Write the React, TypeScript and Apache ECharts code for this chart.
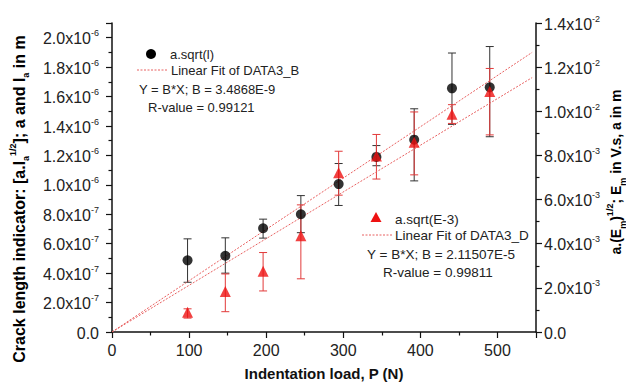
import React, { useEffect, useRef } from "react";
import * as echarts from "echarts";

const loads = [98, 147, 196, 245, 294, 343, 392, 441, 490];
const circleY = [4.87e-7, 5.18e-7, 7.05e-7, 8.0e-7, 1.005e-6, 1.19e-6, 1.307e-6, 1.656e-6, 1.663e-6];
const circleLo = [3.38e-7, 4.0e-7, 6.38e-7, 6.75e-7, 8.6e-7, 1.13e-6, 1.027e-6, 1.411e-6, 1.327e-6];
const circleHi = [6.33e-7, 6.4e-7, 7.67e-7, 9.27e-7, 1.145e-6, 1.267e-6, 1.517e-6, 1.896e-6, 1.94e-6];
const triY = [0.89e-3, 1.83e-3, 2.75e-3, 4.36e-3, 7.22e-3, 7.97e-3, 8.6e-3, 9.87e-3, 10.9e-3];
const triLo = [0.63e-3, 0.92e-3, 1.86e-3, 2.41e-3, 6.2e-3, 6.93e-3, 7.12e-3, 9.45e-3, 8.93e-3];
const triHi = [1.05e-3, 2.63e-3, 3.6e-3, 5.76e-3, 8.19e-3, 8.95e-3, 9.97e-3, 10.3e-3, 11.94e-3];
const fitB = [[0, 0], [545, 1.9003e-6]];
const fitD = [[0, 0], [545, 1.15271e-2]];
const legendTexts = {
  b1: "a.sqrt(l)",
  b2: "Linear Fit of DATA3_B",
  b3: "Y = B*X; B = 3.4868E-9",
  b4: "R-value = 0.99121",
  d1: "a.sqrt(E-3)",
  d2: "Linear Fit of DATA3_D",
  d3: "Y = B*X; B = 2.11507E-5",
  d4: "R-value = 0.99811",
};

const FONT = "'Liberation Sans', Arial, Helvetica, sans-serif";

function sciLabel(v: number): string {
  if (Math.abs(v) < 1e-15) return "{a|0.0}";
  let e = Math.floor(Math.log10(Math.abs(v)) + 1e-9);
  let m = v / Math.pow(10, e);
  m = Math.round(m * 10) / 10;
  if (m >= 10) {
    m = m / 10;
    e += 1;
  }
  return `{a|${m.toFixed(1)}x10}{s|${e}}`;
}

const labelRich = {
  a: { fontSize: 16, fontFamily: FONT, color: "#222", lineHeight: 18, verticalAlign: "bottom" as const },
  s: { fontSize: 9, fontFamily: FONT, color: "#222", lineHeight: 18, verticalAlign: "top" as const },
};

function errSeries(name: string, yIdx: number, lo: number[], hi: number[], color: string) {
  return {
    type: "custom",
    name,
    yAxisIndex: yIdx,
    z: 2,
    data: loads.map((x, i) => [x, lo[i], hi[i]]),
    renderItem: (params: any, api: any) => {
      const p1 = api.coord([api.value(0), api.value(1)]);
      const p2 = api.coord([api.value(0), api.value(2)]);
      const w = 4;
      const st = { stroke: color, lineWidth: 1 };
      return {
        type: "group",
        children: [
          { type: "line", shape: { x1: p1[0], y1: p1[1], x2: p2[0], y2: p2[1] }, style: st },
          { type: "line", shape: { x1: p1[0] - w, y1: p1[1], x2: p1[0] + w, y2: p1[1] }, style: st },
          { type: "line", shape: { x1: p2[0] - w, y1: p2[1], x2: p2[0] + w, y2: p2[1] }, style: st },
        ],
      };
    },
  };
}

function titleRich(size: number) {
  const base = { fontWeight: "bold" as const, fontFamily: FONT, color: "#111", lineHeight: 22 };
  return {
    b: { ...base, fontSize: size, verticalAlign: "middle" as const },
    sup: { ...base, fontSize: 9, verticalAlign: "top" as const },
    sub: { ...base, fontSize: 9, verticalAlign: "bottom" as const },
  };
}

export default function App() {
  const ref = useRef<HTMLDivElement>(null);
  useEffect(() => {
    if (!ref.current) return;
    const chart = echarts.init(ref.current, null, { renderer: "svg" });
    const legTxt = (t: string, x: number, y: number, size: number) => ({
      type: "text",
      x,
      y,
      style: { text: t, fontSize: size, fontFamily: FONT, fill: "#222", verticalAlign: "middle" },
    });
    chart.setOption({
      animation: false,
      backgroundColor: "#fff",
      grid: { left: 112, right: 90, top: 23, bottom: 49, containLabel: false },
      xAxis: {
        type: "value",
        min: 0,
        max: 550,
        interval: 100,
        name: "Indentation load, P (N)",
        nameLocation: "middle",
        nameGap: 34,
        nameTextStyle: { fontSize: 15, fontWeight: "bold", fontFamily: FONT, color: "#111" },
        axisLine: { show: true, onZero: false, lineStyle: { color: "#111", width: 1.5 } },
        axisTick: { show: true, length: 6, lineStyle: { color: "#111", width: 1.2 } },
        minorTick: { show: true, splitNumber: 2, length: 3.5, lineStyle: { color: "#111", width: 1.2 } },
        splitLine: { show: false },
        axisLabel: { fontSize: 16, fontFamily: FONT, color: "#222", margin: 10, showMaxLabel: false },
      },
      yAxis: [
        {
          type: "value",
          min: 0,
          max: 2.1e-6,
          interval: 2e-7,
          position: "left",
          axisLine: { show: true, lineStyle: { color: "#111", width: 1.5 } },
          axisTick: { show: true, length: 6, lineStyle: { color: "#111", width: 1.2 } },
          minorTick: { show: true, splitNumber: 2, length: 3.5, lineStyle: { color: "#111", width: 1.2 } },
          splitLine: { show: false },
          axisLabel: { margin: 13, showMaxLabel: false, formatter: (v: number) => sciLabel(v), rich: labelRich },
        },
        {
          type: "value",
          min: 0,
          max: 1.4e-2,
          interval: 2e-3,
          position: "right",
          axisLine: { show: true, lineStyle: { color: "#111", width: 1.5 } },
          axisTick: { show: true, length: 6, lineStyle: { color: "#111", width: 1.2 } },
          minorTick: { show: true, splitNumber: 2, length: 3.5, lineStyle: { color: "#111", width: 1.2 } },
          splitLine: { show: false },
          axisLabel: { margin: 8, formatter: (v: number) => sciLabel(v), rich: labelRich },
        },
      ],
      graphic: [
        {
          type: "text",
          x: 19,
          y: 199,
          rotation: Math.PI / 2,
          style: {
            text: "{b|Crack length indicator: [a.l}{sub|a}{sup|1/2}{b|]; a and l}{sub|a}{b| in m}",
            rich: titleRich(16),
            align: "center",
            verticalAlign: "middle",
          },
        },
        {
          type: "text",
          x: 616,
          y: 172,
          rotation: Math.PI / 2,
          style: {
            text: "{b|a.(E}{sub|m}{b|)}{sup|1/2}{b|; E}{sub|m}{b| in V.s, a in m}",
            rich: titleRich(14),
            align: "center",
            verticalAlign: "middle",
          },
        },
        { type: "circle", shape: { cx: 151, cy: 54, r: 5 }, style: { fill: "#000" } },
        legTxt(legendTexts.b1, 170, 54, 13),
        { type: "line", shape: { x1: 137, y1: 70, x2: 167, y2: 70 }, style: { stroke: "#e86060", lineWidth: 1, lineDash: [2, 1.5] } },
        legTxt(legendTexts.b2, 171, 70, 13),
        legTxt(legendTexts.b3, 139, 89, 13),
        legTxt(legendTexts.b4, 148, 107, 13),
        { type: "polygon", shape: { points: [[376, 212], [381.5, 222], [370.5, 222]] }, style: { fill: "#ee1111" } },
        legTxt(legendTexts.d1, 395, 219, 13.5),
        { type: "line", shape: { x1: 362, y1: 235, x2: 393, y2: 235 }, style: { stroke: "#e86060", lineWidth: 1, lineDash: [2, 1.5] } },
        legTxt(legendTexts.d2, 395, 235, 13.5),
        legTxt(legendTexts.d3, 367, 254, 13.5),
        legTxt(legendTexts.d4, 383, 272, 13.5),
      ],
      series: [
        errSeries("errB", 0, circleLo, circleHi, "#333"),
        errSeries("errD", 1, triLo, triHi, "#e23a3a"),
        {
          type: "line",
          name: "fitB",
          yAxisIndex: 0,
          data: fitB,
          symbol: "none",
          z: 3,
          lineStyle: { color: "#e86060", width: 1, type: [2, 1.5] },
        },
        {
          type: "line",
          name: "fitD",
          yAxisIndex: 1,
          data: fitD,
          symbol: "none",
          z: 3,
          lineStyle: { color: "#e86060", width: 1, type: [2, 1.5] },
        },
        {
          type: "scatter",
          name: "a.sqrt(l)",
          yAxisIndex: 0,
          data: loads.map((x, i) => [x, circleY[i]]),
          symbol: "circle",
          symbolSize: 10,
          z: 4,
          itemStyle: { color: "#000" },
        },
        {
          type: "scatter",
          name: "a.sqrt(E-3)",
          yAxisIndex: 1,
          data: loads.map((x, i) => [x, triY[i]]),
          symbol: "triangle",
          symbolSize: 11,
          z: 5,
          itemStyle: { color: "#ee1111" },
        },
      ],
    });
    return () => chart.dispose();
  }, []);
  return (
    <div
      ref={ref}
      style={{ position: "absolute", left: 0, top: 0, width: 626, height: 386, background: "#fff" }}
    />
  );
}
